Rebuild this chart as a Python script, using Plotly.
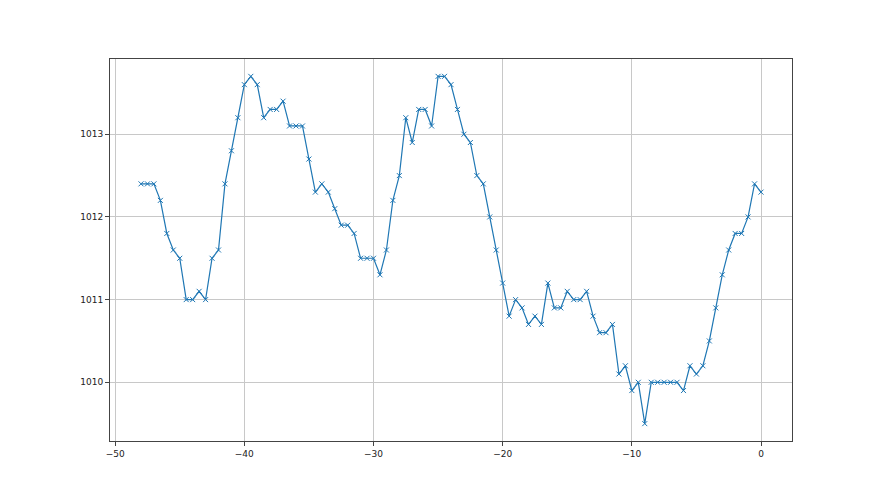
import plotly.graph_objects as go

# hours relative to now
hours = [
    -48, -47.5, -47, -46.5, -46, -45.5, -45, -44.5, -44, -43.5,
    -43, -42.5, -42, -41.5, -41, -40.5, -40, -39.5, -39, -38.5,
    -38, -37.5, -37, -36.5, -36, -35.5, -35, -34.5, -34, -33.5,
    -33, -32.5, -32, -31.5, -31, -30.5, -30, -29.5, -29, -28.5,
    -28, -27.5, -27, -26.5, -26, -25.5, -25, -24.5, -24, -23.5,
    -23, -22.5, -22, -21.5, -21, -20.5, -20, -19.5, -19, -18.5,
    -18, -17.5, -17, -16.5, -16, -15.5, -15, -14.5, -14, -13.5,
    -13, -12.5, -12, -11.5, -11, -10.5, -10, -9.5, -9, -8.5,
    -8, -7.5, -7, -6.5, -6, -5.5, -5, -4.5, -4, -3.5,
    -3, -2.5, -2, -1.5, -1, -0.5, 0,
]

# pressure readings (hPa)
pressure = [
    1012.4, 1012.4, 1012.4, 1012.2, 1011.8, 1011.6, 1011.5, 1011.0, 1011.0, 1011.1,
    1011.0, 1011.5, 1011.6, 1012.4, 1012.8, 1013.2, 1013.6, 1013.7, 1013.6, 1013.2,
    1013.3, 1013.3, 1013.4, 1013.1, 1013.1, 1013.1, 1012.7, 1012.3, 1012.4, 1012.3,
    1012.1, 1011.9, 1011.9, 1011.8, 1011.5, 1011.5, 1011.5, 1011.3, 1011.6, 1012.2,
    1012.5, 1013.2, 1012.9, 1013.3, 1013.3, 1013.1, 1013.7, 1013.7, 1013.6, 1013.3,
    1013.0, 1012.9, 1012.5, 1012.4, 1012.0, 1011.6, 1011.2, 1010.8, 1011.0, 1010.9,
    1010.7, 1010.8, 1010.7, 1011.2, 1010.9, 1010.9, 1011.1, 1011.0, 1011.0, 1011.1,
    1010.8, 1010.6, 1010.6, 1010.7, 1010.1, 1010.2, 1009.9, 1010.0, 1009.5, 1010.0,
    1010.0, 1010.0, 1010.0, 1010.0, 1009.9, 1010.2, 1010.1, 1010.2, 1010.5, 1010.9,
    1011.3, 1011.6, 1011.8, 1011.8, 1012.0, 1012.4, 1012.3,
]

x_ticks = [-50, -40, -30, -20, -10, 0]
y_ticks = [1010, 1011, 1012, 1013]

fig = go.Figure()
fig.add_trace(
    go.Scatter(
        x=hours, y=pressure,
        mode="lines+markers",
        line=dict(color="#1f77b4", width=1.2),
        marker=dict(symbol="x-thin", size=5, line=dict(color="#1f77b4", width=1)),
        showlegend=False,
    )
)

axis_common = dict(
    showgrid=True, gridcolor="#c8c8c8", gridwidth=1,
    showline=True, linecolor="#444444", linewidth=1, mirror=True,
    ticks="outside", ticklen=4, tickcolor="#444444",
    zeroline=False,
    tickfont=dict(family="Liberation Sans Narrow, DejaVu Sans", size=9, color="#222222"),
)

# page body has an 8px margin, so shrink the figure and shift margins to keep
# the plot area at the same spot as the reference
fig.update_layout(
    width=872, height=487,
    margin=dict(l=102, r=88, t=51, b=54),
    plot_bgcolor="white", paper_bgcolor="white",
    xaxis=dict(range=[-50.4, 2.4], tickvals=x_ticks, ticktext=[str(v).replace("-", "\u2212") for v in x_ticks], **axis_common),
    yaxis=dict(range=[1009.29, 1013.91], tickvals=y_ticks, **axis_common),
)

fig.write_html("out.html")
